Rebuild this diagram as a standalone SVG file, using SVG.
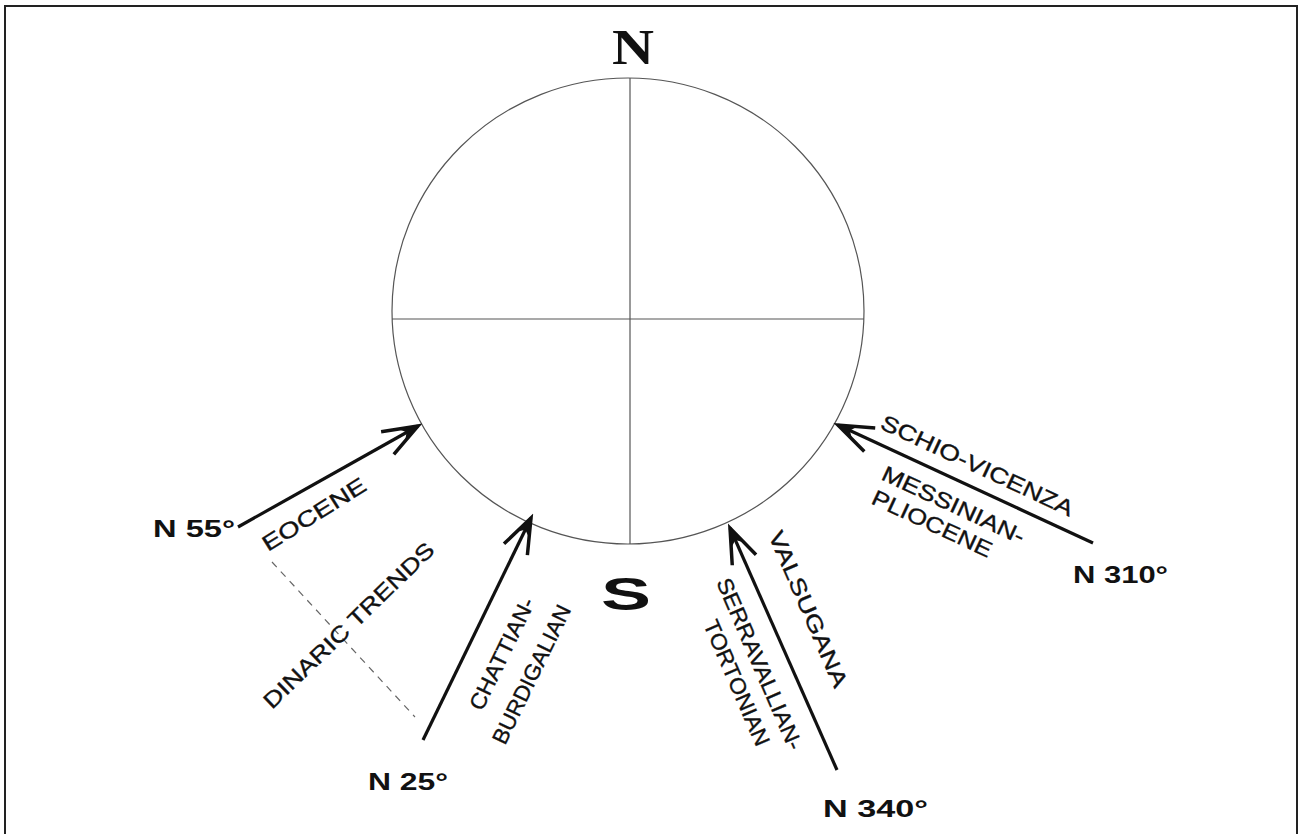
<svg xmlns="http://www.w3.org/2000/svg" width="1303" height="834" viewBox="0 0 1303 834">
<style>
.lbl{font-family:"Liberation Sans",Arial,sans-serif;font-size:22px;fill:#111;stroke:#111;stroke-width:0.35}
.deg{font-family:"Liberation Sans",Arial,sans-serif;font-size:23px;font-weight:bold;fill:#111}
.shaft{stroke:#111;stroke-width:3.2;fill:none}
.thin{stroke:#555;stroke-width:1.2;fill:none}
</style>
<defs>
<marker id="arr" markerUnits="userSpaceOnUse" viewBox="-45 -25 50 50" markerWidth="50" markerHeight="50" refX="0" refY="0" orient="auto">
<path d="M-35,-13 L0,0 L-35,13" fill="none" stroke="#111" stroke-width="3.5"/>
<path d="M1,0 L-18,-6 L-13,0 L-18,6 Z" fill="#111"/>
</marker>
</defs>
<rect x="5" y="6" width="1292" height="840" fill="#fff" stroke="#222" stroke-width="2"/>
<g id="compass">
<ellipse cx="628" cy="311" rx="236" ry="233" class="thin"/>
<line x1="392" y1="319" x2="864" y2="319" class="thin"/>
<line x1="630" y1="78" x2="630" y2="544" class="thin"/>
<text x="633" y="64" text-anchor="middle" font-family="Liberation Serif,serif" font-weight="bold" font-size="50" fill="#111" textLength="42" lengthAdjust="spacingAndGlyphs">N</text>
<text x="626" y="610" text-anchor="middle" font-family="Liberation Sans,Arial,sans-serif" font-weight="bold" font-size="46" fill="#111" textLength="50" lengthAdjust="spacingAndGlyphs">S</text>
</g>
<g id="connectors">
<line x1="238" y1="527" x2="418" y2="426" class="shaft" marker-end="url(#arr)"/>
<line x1="423" y1="740" x2="531" y2="518" class="shaft" marker-end="url(#arr)"/>
<line x1="837" y1="770" x2="730" y2="528" class="shaft" stroke-width="2.6" marker-end="url(#arr)"/>
<line x1="1093" y1="543" x2="838" y2="425" class="shaft" marker-end="url(#arr)"/>
<line x1="272" y1="562" x2="415" y2="717" stroke="#666" stroke-width="1.2" stroke-dasharray="7,6"/>
</g>
<g id="eocene">
<text x="153" y="537" class="deg" textLength="82" lengthAdjust="spacingAndGlyphs">N 55°</text>
<text class="lbl" transform="translate(268,552) rotate(-32)" textLength="118" lengthAdjust="spacingAndGlyphs">EOCENE</text>
</g>
<g id="dinaric">
<text class="lbl" transform="translate(272,710) rotate(-44)" textLength="228" lengthAdjust="spacingAndGlyphs">DINARIC TRENDS</text>
</g>
<g id="chattian">
<text x="368" y="790" class="deg" textLength="80" lengthAdjust="spacingAndGlyphs">N 25°</text>
<text class="lbl" transform="translate(482,712) rotate(-64)" textLength="122" lengthAdjust="spacingAndGlyphs">CHATTIAN-</text>
<text class="lbl" transform="translate(505,746) rotate(-64)" textLength="152" lengthAdjust="spacingAndGlyphs">BURDIGALIAN</text>
</g>
<g id="valsugana">
<text x="823" y="817" class="deg" textLength="105" lengthAdjust="spacingAndGlyphs">N 340°</text>
<text class="lbl" transform="translate(768,535) rotate(66.6)" textLength="168" lengthAdjust="spacingAndGlyphs">VALSUGANA</text>
<text class="lbl" transform="translate(716,582) rotate(66.6)" textLength="185" lengthAdjust="spacingAndGlyphs">SERRAVALLIAN-</text>
<text class="lbl" transform="translate(703,624) rotate(66.6)" textLength="135" lengthAdjust="spacingAndGlyphs">TORTONIAN</text>
</g>
<g id="schio">
<text x="1073" y="583" class="deg" textLength="95" lengthAdjust="spacingAndGlyphs">N 310°</text>
<text class="lbl" transform="translate(879,428) rotate(25)" textLength="210" lengthAdjust="spacingAndGlyphs">SCHIO-VICENZA</text>
<text class="lbl" transform="translate(880,479) rotate(25)" textLength="155" lengthAdjust="spacingAndGlyphs">MESSINIAN-</text>
<text class="lbl" transform="translate(870,503) rotate(25)" textLength="130" lengthAdjust="spacingAndGlyphs">PLIOCENE</text>
</g>
</svg>
